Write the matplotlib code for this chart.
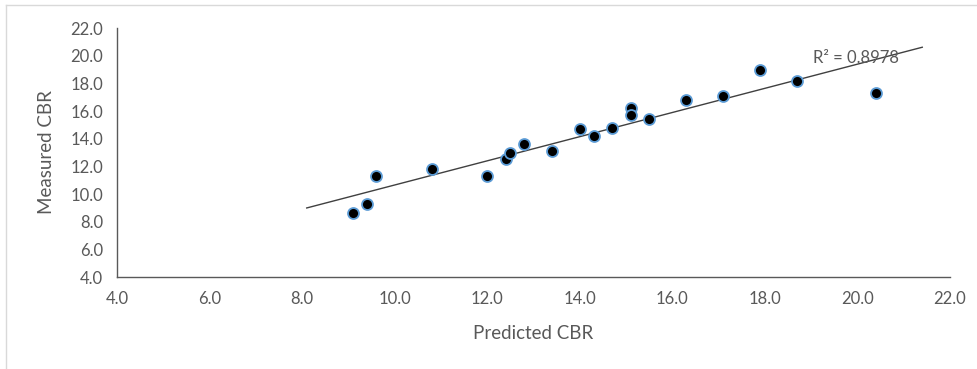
import numpy as np
import matplotlib
matplotlib.use("Agg")
import matplotlib.pyplot as plt
from matplotlib.lines import Line2D

predicted = [9.1, 9.4, 9.6, 10.8, 12.0, 12.4, 12.5, 12.8, 13.4, 14.0,
             14.3, 14.7, 15.1, 15.1, 15.5, 16.3, 17.1, 17.9, 18.7, 20.4]
measured = [8.6, 9.3, 11.3, 11.8, 11.3, 12.5, 13.0, 13.6, 13.1, 14.7,
            14.2, 14.8, 16.2, 15.7, 15.4, 16.8, 17.1, 19.0, 18.2, 17.3]
r2_label = "R² = 0.8978"
ticks = [4.0, 6.0, 8.0, 10.0, 12.0, 14.0, 16.0, 18.0, 20.0, 22.0]

plt.rcParams['font.family'] = ['Lato', 'DejaVu Sans']
grey = '#595959'

fig = plt.figure(figsize=(9.78, 3.69), dpi=100)
ax = fig.add_axes([0.1196, 0.2493, 0.8518, 0.6747])

x = np.array(predicted)
y = np.array(measured)
m, b = np.polyfit(x, y, 1)
xl = np.array([x.min() - 1.0, x.max() + 1.0])
ax.plot(xl, m * xl + b, color='#404040', lw=1.0, zorder=2)

ax.scatter(x, y, s=62, c='black', edgecolors='#5B9BD5', linewidths=1.3, zorder=3)

ax.set_xlim(4, 22)
ax.set_ylim(4, 22)
ax.set_xticks(ticks)
ax.set_yticks(ticks)
ax.set_xticklabels([f"{t:.1f}" for t in ticks])
ax.set_yticklabels([f"{t:.1f}" for t in ticks])
ax.tick_params(length=0, labelsize=12, colors=grey)
ax.tick_params(axis='x', pad=10)
ax.tick_params(axis='y', pad=10)
for s in ['top', 'right']:
    ax.spines[s].set_visible(False)
for s in ['left', 'bottom']:
    ax.spines[s].set_color(grey)
    ax.spines[s].set_linewidth(1.0)

ax.set_xlabel("Predicted CBR", fontsize=13.5, color=grey, labelpad=13)
ax.set_ylabel("Measured CBR", fontsize=13.5, color=grey, labelpad=11)

ax.text(19.05, 19.8, r2_label, fontsize=12, color=grey, va='center', ha='left', zorder=4)

# chart border
fig.add_artist(Line2D([6/978, 6/978], [0, 1 - 5/369], color='#d9d9d9', lw=1.0))
fig.add_artist(Line2D([6/978, 1], [1 - 5/369, 1 - 5/369], color='#d9d9d9', lw=1.0))

fig.savefig("out.png", dpi=100, facecolor='white')
